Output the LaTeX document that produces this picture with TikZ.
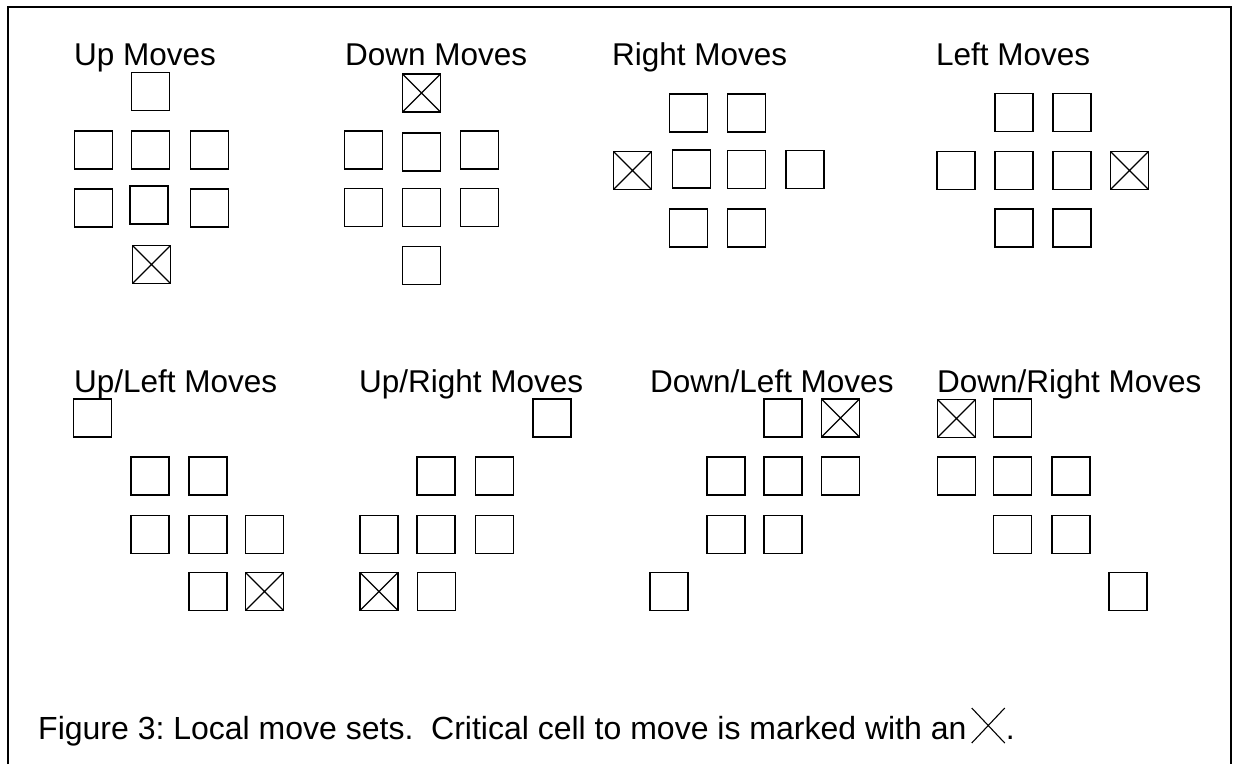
\documentclass[tikz,border=0pt]{standalone}
\usepackage{fontspec}
\setmainfont{Liberation Sans}
\begin{document}
\begin{tikzpicture}[x=1pt,y=-1pt,
  cell/.style={draw, line width=1.3pt, minimum width=38pt, minimum height=38pt, inner sep=0pt},
  crit/.style={cell, path picture={\draw[line width=1.1pt] (path picture bounding box.north west) -- (path picture bounding box.south east) (path picture bounding box.north east) -- (path picture bounding box.south west);}},
  lbl/.style={anchor=base west, inner sep=0pt, font=\fontsize{31.5}{36}\selectfont\frenchspacing},
  caplbl/.style={anchor=base west, inner sep=0pt, font=\fontsize{32}{36}\selectfont\frenchspacing},
  frame/.style={line width=2pt}]
\useasboundingbox (0,0) rectangle (1235,764);
% frame (open at bottom)
\coordinate (fbl) at (8,764);
\coordinate (ftl) at (8,7);
\coordinate (ftr) at (1231,7);
\coordinate (fbr) at (1231,764);
\draw[frame] (fbl) -- (ftl) -- (ftr) -- (fbr);
% labels
\node[lbl] (lup) at (74,65) {Up Moves};
\node[lbl] (ldown) at (345,65) {Down Moves};
\node[lbl] (lright) at (612,65) {Right Moves};
\node[lbl] (lleft) at (936,65) {Left Moves};
\node[lbl] (lul) at (74,392) {Up/Left Moves};
\node[lbl] (lur) at (359,392) {Up/Right Moves};
\node[lbl] (ldl) at (650,392) {Down/Left Moves};
\node[lbl] (ldr) at (937,392) {Down/Right Moves};
% Up moves
\node[cell] (u1) at (150.5,91.5) {};
\node[cell] (u2) at (93.5,150) {};
\node[cell] (u3) at (150.5,150) {};
\node[cell] (u4) at (209.5,150) {};
\node[cell] (u5) at (93.5,208) {};
\node[cell] (u6) at (149,205) {};
\node[cell] (u7) at (209.5,208) {};
\node[crit] (u8) at (151.5,264.5) {};
% Down moves
\node[crit] (d1) at (421.5,93) {};
\node[cell] (d2) at (363.5,150) {};
\node[cell] (d3) at (421.5,152) {};
\node[cell] (d4) at (479.5,150) {};
\node[cell] (d5) at (363.5,207.5) {};
\node[cell] (d6) at (421.5,207.5) {};
\node[cell] (d7) at (479.5,207.5) {};
\node[cell] (d8) at (421.5,265.5) {};
% Right moves
\node[cell] (r1) at (688.5,113) {};
\node[cell] (r2) at (746.5,113) {};
\node[crit] (r3) at (632.5,170.5) {};
\node[cell] (r4) at (691.5,169) {};
\node[cell] (r5) at (746.5,169.5) {};
\node[cell] (r6) at (805,169.5) {};
\node[cell] (r7) at (688.5,228) {};
\node[cell] (r8) at (746.5,228) {};
% Left moves
\node[cell] (l1) at (1014,112.5) {};
\node[cell] (l2) at (1072,112.5) {};
\node[cell] (l3) at (956,170.5) {};
\node[cell] (l4) at (1014,170.5) {};
\node[cell] (l5) at (1072,170.5) {};
\node[crit] (l6) at (1129.5,170.5) {};
\node[cell] (l7) at (1014,228) {};
\node[cell] (l8) at (1072,228) {};
% Up/Left moves
\node[cell] (ul1) at (92.5,418) {};
\node[cell] (ul2) at (150,476) {};
\node[cell] (ul3) at (208,476) {};
\node[cell] (ul4) at (150,534.5) {};
\node[cell] (ul5) at (208,534.5) {};
\node[cell] (ul6) at (264.5,534.5) {};
\node[cell] (ul7) at (208,591.5) {};
\node[crit] (ul8) at (264.5,591.5) {};
% Up/Right moves
\node[cell] (ur1) at (552,418) {};
\node[cell] (ur2) at (436,476) {};
\node[cell] (ur3) at (494.5,476) {};
\node[cell] (ur4) at (379,534.5) {};
\node[cell] (ur5) at (436,534.5) {};
\node[cell] (ur6) at (494.5,534.5) {};
\node[crit] (ur7) at (379,591.5) {};
\node[cell] (ur8) at (436.5,591.5) {};
% Down/Left moves
\node[cell] (dl1) at (783,418) {};
\node[crit] (dl2) at (840.5,418) {};
\node[cell] (dl3) at (726,476) {};
\node[cell] (dl4) at (783,476) {};
\node[cell] (dl5) at (840.5,476) {};
\node[cell] (dl6) at (726,534.5) {};
\node[cell] (dl7) at (783,534.5) {};
\node[cell] (dl8) at (669,591.5) {};
% Down/Right moves
\node[crit] (dr1) at (956.5,418.5) {};
\node[cell] (dr2) at (1012.5,418) {};
\node[cell] (dr3) at (956.5,476) {};
\node[cell] (dr4) at (1012.5,476) {};
\node[cell] (dr5) at (1071,476) {};
\node[cell] (dr6) at (1012.5,534.5) {};
\node[cell] (dr7) at (1071,534.5) {};
\node[cell] (dr8) at (1128,591.5) {};
% caption
\node[caplbl] (cap) at (38,739) {Figure 3: Local move sets.\ \ Critical cell to move is marked with an};
\coordinate (xa) at ([xshift=5pt,yshift=31pt]cap.base east);
\coordinate (xb) at ([xshift=38pt,yshift=-4pt]cap.base east);
\coordinate (xc) at ([xshift=38pt,yshift=31pt]cap.base east);
\coordinate (xd) at ([xshift=5pt,yshift=-4pt]cap.base east);
\draw[line width=1.1pt] (xa) -- (xb) (xc) -- (xd);
\node[caplbl] (dot) at ([xshift=39pt]cap.base east) {.};
\end{tikzpicture}
\end{document}
